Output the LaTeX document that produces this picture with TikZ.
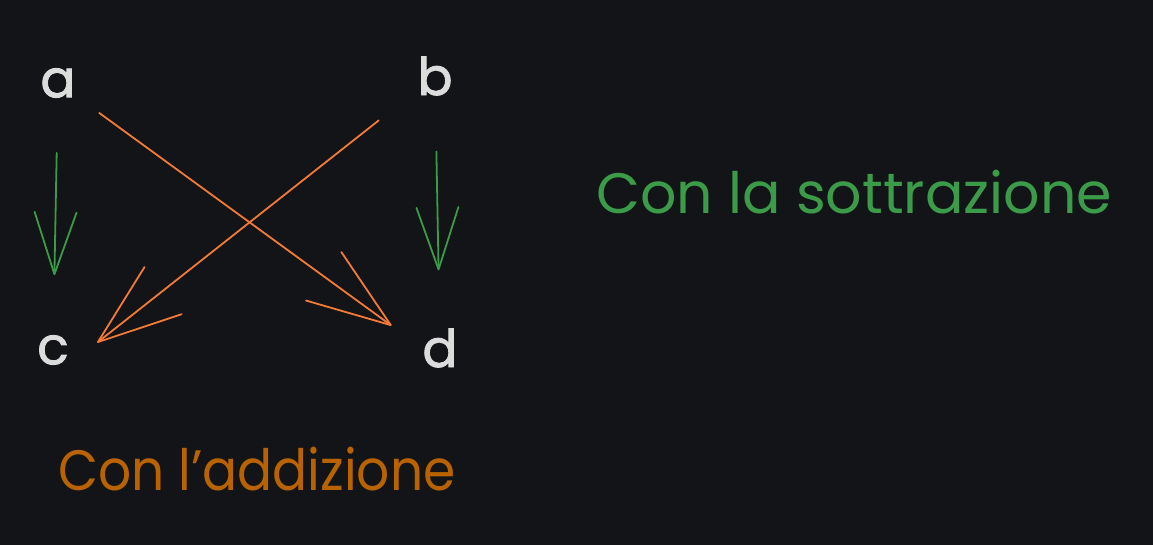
\documentclass[tikz,border=0pt]{standalone}
\usepackage{fontspec}
\setmainfont{Poppins}
\newfontfamily\letterfont[FakeBold=1.6]{Poppins}
\usetikzlibrary{arrows.meta}
\definecolor{bgdark}{HTML}{121418}
\definecolor{letterwhite}{HTML}{DCDCDC}
\definecolor{subgreen}{HTML}{3B9B48}
\definecolor{addorange}{HTML}{F47A35}
\definecolor{addtext}{HTML}{B86200}

\begin{document}
\begin{tikzpicture}[%
    x=1pt, y=-1pt,
    letter/.style={text=letterwhite, inner sep=0pt,
      font=\fontsize{52}{52}\letterfont},
    label/.style={anchor=base west, inner sep=0pt,
      font=\fontsize{57}{57}\selectfont},
    subarrow/.style={draw=subgreen, line width=1.8pt, line cap=round,
      -{Straight Barb[length=62pt,width=42pt,round]}},
    addarrow/.style={draw=addorange, line width=1.8pt, line cap=round,
      -{Straight Barb[length=83pt,width=60pt,round]}}]
  \fill[bgdark] (0,0) rectangle (1153,545);
  \node[letter] (a) at (58,83) {a};
  \node[letter] (b) at (435,76) {b};
  \node[letter] (c) at (53,350) {c};
  \node[letter] (d) at (440,348) {d};
  \draw[subarrow, shorten <=55pt, shorten >=60pt] (a) -- (c);
  \draw[subarrow, shorten <=56pt, shorten >=58pt] (b) -- (d);
  \draw[addarrow, shorten <=29pt, shorten >=38pt] (a) -- (d.west);
  \draw[addarrow, shorten <=49pt, shorten >=36pt] (b) -- (c.south east);
  \node[label, text=subgreen] (sub) at (596,214) {Con la sottrazione};
  \node[label, text=addtext, transform shape, xscale=0.91] (add) at (58,490)
    {Con l{\char"27}addizione};
\end{tikzpicture}
\end{document}
